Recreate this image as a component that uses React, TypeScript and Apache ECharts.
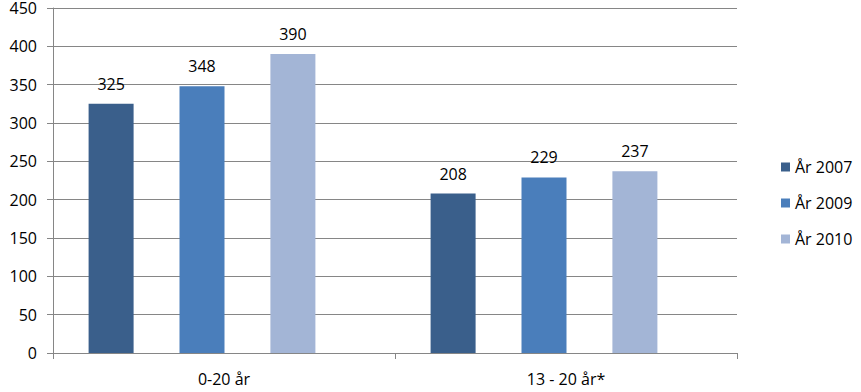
import React, { useEffect, useRef } from "react";
import * as echarts from "echarts";

const categories = ["0-20 år", "13 - 20 år*"];
const seriesNames = ["År 2007", "År 2009", "År 2010"];
const values2007 = [325, 208];
const values2009 = [348, 229];
const values2010 = [390, 237];
const colors = ["#3A5F8B", "#4A7EBB", "#A3B5D6"];

const FONT = "'Open Sans', 'Noto Sans', sans-serif";

export default function App() {
  const ref = useRef<HTMLDivElement>(null);
  useEffect(() => {
    if (!ref.current) return;
    const chart = echarts.init(ref.current, null, { renderer: "svg" });
    const data = [values2007, values2009, values2010];
    chart.setOption({
      animation: false,
      backgroundColor: "#ffffff",
      textStyle: { fontFamily: FONT },
      grid: [
        { left: 53, right: 124, top: 8, bottom: 39 },
        { left: 31, right: 146, top: 8, bottom: 39 },
      ],
      legend: {
        orient: "vertical",
        left: 776,
        top: 154,
        itemWidth: 9,
        itemHeight: 9,
        itemGap: 20,
        icon: "rect",
        data: seriesNames,
        textStyle: { fontSize: 16, color: "#000", fontFamily: FONT },
      },
      xAxis: [
        {
          type: "category",
          gridIndex: 0,
          data: categories,
          boundaryGap: true,
          axisLine: { show: true, lineStyle: { color: "#868686", width: 1 } },
          axisTick: { show: true, length: 6, interval: 0, lineStyle: { color: "#868686" } },
          axisLabel: { fontSize: 16, color: "#000", margin: 18, fontFamily: FONT },
          splitLine: { show: false },
        },
        {
          type: "category",
          gridIndex: 1,
          data: categories,
          show: false,
        },
      ],
      yAxis: [
        {
          type: "value",
          gridIndex: 0,
          min: 0,
          max: 450,
          interval: 50,
          axisLine: { show: true, lineStyle: { color: "#868686", width: 1 } },
          axisTick: { show: true, length: 6, lineStyle: { color: "#868686" } },
          axisLabel: { fontSize: 16, color: "#000", margin: 16, fontFamily: FONT },
          splitLine: { show: true, lineStyle: { color: "#868686", width: 1 } },
        },
        {
          type: "value",
          gridIndex: 1,
          min: 0,
          max: 450,
          interval: 50,
          show: false,
          splitLine: { show: false },
        },
      ],
      series: seriesNames.map((name, i) => ({
        name,
        type: "bar",
        xAxisIndex: 1,
        yAxisIndex: 1,
        data: data[i],
        barWidth: 45,
        barGap: "102%",
        itemStyle: { color: colors[i] },
        label: {
          show: true,
          position: "top",
          distance: 12,
          fontSize: 16,
          color: "#000",
          fontFamily: FONT,
        },
      })),
    });
    return () => chart.dispose();
  }, []);
  return (
    <div
      ref={ref}
      style={{ position: "fixed", left: 0, top: 0, width: 861, height: 392 }}
    />
  );
}
